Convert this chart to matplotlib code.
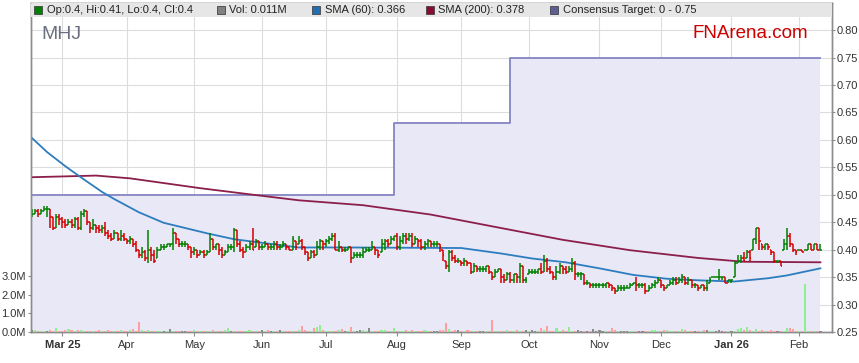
import numpy as np
import pandas as pd
import matplotlib
matplotlib.use('Agg')
import matplotlib.pyplot as plt
from matplotlib.collections import LineCollection
from matplotlib.patches import Rectangle

plt.rcParams['font.family'] = ['Liberation Sans', 'DejaVu Sans']

# daily bars from 17 Feb 2025, prices in A$
closes = [
    0.465, 0.470, 0.465, 0.470, 0.475, 0.475, 0.460, 0.440, 0.460, 0.455,
    0.450, 0.445, 0.450, 0.445, 0.455, 0.440, 0.465, 0.470, 0.450, 0.440, 0.445,
    0.440, 0.435, 0.440, 0.430, 0.425, 0.420, 0.430, 0.420, 0.425, 0.420,
    0.415, 0.420, 0.410, 0.400, 0.390, 0.395, 0.385, 0.400, 0.390, 0.380, 0.400, 0.405, 0.405, 0.410, 0.410,
    0.430, 0.420, 0.410, 0.410, 0.410,
    0.405, 0.395, 0.400, 0.390, 0.395, 0.390, 0.395,
    0.420, 0.405, 0.410, 0.400, 0.390, 0.395, 0.405, 0.405,
    0.435, 0.410, 0.400, 0.395, 0.405, 0.410, 0.400,
    0.415, 0.405, 0.405, 0.410, 0.405, 0.405, 0.410, 0.405,
    0.405, 0.410, 0.405, 0.400, 0.420, 0.405,
    0.415, 0.405, 0.395, 0.385, 0.395, 0.390, 0.405, 0.415, 0.410, 0.415, 0.420,
    0.425, 0.400, 0.405, 0.400, 0.400, 0.405, 0.385,
    0.390, 0.390, 0.390, 0.395, 0.400, 0.400, 0.405, 0.400, 0.390,
    0.410, 0.415, 0.410, 0.420, 0.425, 0.405, 0.415, 0.425, 0.420,
    0.425, 0.410, 0.420, 0.415, 0.405, 0.410, 0.415, 0.410,
    0.410, 0.410, 0.405, 0.390, 0.370, 0.395, 0.385,
    0.380, 0.380, 0.375, 0.380, 0.375, 0.360, 0.370, 0.365, 0.365,
    0.365, 0.370, 0.360, 0.350, 0.360, 0.365, 0.350, 0.345,
    0.355, 0.345, 0.355, 0.350, 0.370, 0.345, 0.345,
    0.360, 0.360, 0.360, 0.365, 0.360, 0.380,
    0.365, 0.360, 0.350, 0.360, 0.370,
    0.365, 0.360, 0.365, 0.375, 0.355, 0.355, 0.355, 0.340,
    0.340, 0.335, 0.335, 0.335, 0.335, 0.335, 0.340, 0.335, 0.330, 0.325,
    0.330, 0.330, 0.330, 0.330, 0.335, 0.340, 0.335,
    0.335, 0.335, 0.325, 0.330, 0.335, 0.340, 0.345, 0.335,
    0.330, 0.335, 0.340, 0.345, 0.340, 0.345, 0.350,
    0.340, 0.345, 0.335, 0.335,
    0.330, 0.335, 0.330, 0.330, 0.345, 0.350, 0.350, 0.350,
    0.350, 0.340, 0.345, 0.345, 0.375, 0.380, 0.385,
    0.380, 0.395, 0.385, 0.420, 0.440, 0.415, 0.405,
    0.410, 0.405, 0.395, 0.380, 0.380, 0.370,
    0.410, 0.425, 0.410, 0.400, 0.395, 0.400, 0.395,
    0.400, 0.410, 0.400, 0.410, 0.400, 0.400,
]
highs = [
    0.475, 0.475, 0.475, 0.475, 0.480, 0.480, 0.475, 0.460, 0.465, 0.465,
    0.460, 0.455, 0.455, 0.455, 0.460, 0.460, 0.470, 0.475, 0.470, 0.450, 0.455,
    0.445, 0.445, 0.445, 0.450, 0.435, 0.430, 0.435, 0.430, 0.435, 0.430,
    0.420, 0.425, 0.420, 0.415, 0.400, 0.405, 0.400, 0.435, 0.405, 0.400, 0.405, 0.410, 0.410, 0.410, 0.410,
    0.440, 0.430, 0.420, 0.415, 0.415,
    0.410, 0.405, 0.405, 0.400, 0.400, 0.400, 0.400,
    0.430, 0.420, 0.410, 0.410, 0.405, 0.400, 0.410, 0.410,
    0.440, 0.435, 0.415, 0.405, 0.410, 0.415, 0.440,
    0.420, 0.415, 0.410, 0.415, 0.410, 0.410, 0.415, 0.415,
    0.410, 0.415, 0.410, 0.405, 0.425, 0.415,
    0.425, 0.420, 0.405, 0.395, 0.400, 0.400, 0.415, 0.420, 0.415, 0.420, 0.425,
    0.430, 0.430, 0.415, 0.405, 0.405, 0.405, 0.405,
    0.395, 0.395, 0.395, 0.405, 0.405, 0.405, 0.415, 0.405, 0.400,
    0.420, 0.420, 0.420, 0.425, 0.425, 0.430, 0.425, 0.430, 0.430,
    0.430, 0.430, 0.425, 0.420, 0.420, 0.415, 0.420, 0.415,
    0.415, 0.415, 0.410, 0.400, 0.380, 0.400, 0.400,
    0.390, 0.385, 0.380, 0.385, 0.380, 0.375, 0.375, 0.370, 0.370,
    0.370, 0.370, 0.370, 0.360, 0.365, 0.365, 0.365, 0.355,
    0.360, 0.360, 0.355, 0.355, 0.375, 0.370, 0.350,
    0.365, 0.365, 0.365, 0.365, 0.375, 0.390,
    0.385, 0.370, 0.360, 0.370, 0.375,
    0.370, 0.370, 0.370, 0.385, 0.380, 0.360, 0.360, 0.355,
    0.345, 0.340, 0.340, 0.340, 0.340, 0.340, 0.340, 0.340, 0.335, 0.330,
    0.335, 0.335, 0.335, 0.335, 0.340, 0.340, 0.350,
    0.340, 0.340, 0.340, 0.335, 0.340, 0.345, 0.350, 0.345,
    0.335, 0.335, 0.345, 0.350, 0.350, 0.350, 0.355,
    0.350, 0.350, 0.345, 0.340,
    0.335, 0.335, 0.335, 0.345, 0.350, 0.350, 0.350, 0.365,
    0.350, 0.350, 0.345, 0.345, 0.380, 0.390, 0.390,
    0.395, 0.400, 0.400, 0.420, 0.440, 0.440, 0.410,
    0.410, 0.410, 0.400, 0.395, 0.380, 0.380,
    0.420, 0.440, 0.430, 0.410, 0.400, 0.400, 0.400,
    0.400, 0.410, 0.410, 0.410, 0.410, 0.410,
]
lows = [
    0.460, 0.465, 0.460, 0.465, 0.470, 0.460, 0.440, 0.435, 0.440, 0.445,
    0.440, 0.440, 0.445, 0.440, 0.440, 0.435, 0.435, 0.460, 0.445, 0.430, 0.435,
    0.430, 0.430, 0.430, 0.425, 0.420, 0.415, 0.420, 0.415, 0.415, 0.415,
    0.410, 0.410, 0.405, 0.395, 0.385, 0.385, 0.380, 0.375, 0.380, 0.375, 0.385, 0.400, 0.400, 0.405, 0.405,
    0.400, 0.410, 0.405, 0.405, 0.405,
    0.400, 0.385, 0.390, 0.385, 0.390, 0.385, 0.390,
    0.395, 0.400, 0.400, 0.390, 0.385, 0.390, 0.395, 0.400,
    0.395, 0.405, 0.395, 0.385, 0.395, 0.400, 0.400,
    0.405, 0.400, 0.400, 0.405, 0.400, 0.400, 0.400, 0.400,
    0.400, 0.405, 0.400, 0.400, 0.400, 0.400,
    0.410, 0.400, 0.390, 0.380, 0.385, 0.385, 0.390, 0.400, 0.400, 0.405, 0.410,
    0.415, 0.400, 0.395, 0.395, 0.395, 0.400, 0.375,
    0.385, 0.385, 0.385, 0.385, 0.395, 0.395, 0.400, 0.390, 0.385,
    0.395, 0.400, 0.405, 0.410, 0.415, 0.400, 0.400, 0.410, 0.410,
    0.415, 0.405, 0.410, 0.405, 0.400, 0.400, 0.405, 0.405,
    0.405, 0.405, 0.395, 0.380, 0.365, 0.360, 0.380,
    0.375, 0.375, 0.370, 0.370, 0.370, 0.355, 0.360, 0.360, 0.360,
    0.360, 0.360, 0.355, 0.345, 0.350, 0.360, 0.340, 0.340,
    0.345, 0.340, 0.340, 0.340, 0.340, 0.340, 0.340,
    0.355, 0.355, 0.355, 0.355, 0.355, 0.360,
    0.360, 0.355, 0.345, 0.345, 0.355,
    0.355, 0.355, 0.360, 0.360, 0.345, 0.350, 0.345, 0.335,
    0.335, 0.330, 0.330, 0.330, 0.330, 0.330, 0.330, 0.330, 0.325, 0.320,
    0.325, 0.325, 0.325, 0.330, 0.330, 0.335, 0.325,
    0.330, 0.330, 0.320, 0.325, 0.330, 0.330, 0.340, 0.330,
    0.325, 0.330, 0.335, 0.335, 0.335, 0.340, 0.340,
    0.335, 0.335, 0.330, 0.330,
    0.325, 0.330, 0.325, 0.325, 0.340, 0.350, 0.350, 0.345,
    0.345, 0.340, 0.340, 0.340, 0.350, 0.375, 0.375,
    0.380, 0.385, 0.380, 0.400, 0.410, 0.400, 0.400,
    0.400, 0.400, 0.390, 0.375, 0.375, 0.370,
    0.400, 0.400, 0.405, 0.395, 0.390, 0.400, 0.395,
    0.400, 0.400, 0.400, 0.400, 0.400, 0.400,
]
# volume in millions of shares
volumes = [
    .12, .10, .05, .08, .06, .04, .12, .08, .20, .06, .04, .10, .15, .10, .06, .12, .09, .04, .08, .05,
    .06, .04, .10, .03, .08, .12, .06, .08, .05, .09, .04, .06, .10, .14, .08, .55, .12, .08, .10, .06,
    .08, .06, .05, .04, .06, .14, .08, .04, .03, .06, .05, .08, .04, .12, .06, .03, .05, .04, .08, .10,
    .05, .04, .07, .12, .20, .06, .04, .05, .08, .03, .06, .10, .05, .04, .08, .12, .06, .10, .05, .04,
    .06, .10, .03, .05, .08, .06, .04, .12, .30, .10, .08, .06, .20, .25, .38, .10, .05, .04, .08, .06,
    .10, .15, .06, .04, .25, .08, .05, .10, .12, .06, .20, .05, .08, .04, .12, .10, .06, .05, .20, .08,
    .04, .06, .10, .05, .12, .08, .06, .04, .10, .05, .08, .06, .04, .10, .12, .48, .15, .08, .12, .10,
    .06, .08, .10, .05, .06, .04, .05, .08, .04, .06, .62, .05, .04, .08, .06, .10, .05, .04, .12, .06,
    .08, .10, .05, .12, .06, .08, .20, .10, .30, .06, .08, .22, .04, .10, .08, .25, .06, .08, .10, .05,
    .04, .06, .08, .14, .05, .12, .06, .04, .05, .20, .12, .06, .05, .04, .06, .04, .05, .08, .06, .04,
    .05, .04, .10, .12, .06, .08, .10, .12, .05, .06, .04, .08, .14, .12, .06, .04, .05, .08, .06, .10,
    .12, .05, .04, .08, .10, .06, .04, .08, .05, .06, .15, .20, .12, .25, .10, .08, .15, .06, .10, .06,
    .08, .10, .05, .06, .04, .08, .20, .22, .15, .06, .08, .04, 2.57, .06, .05, .04, .06, .05,
]

sma60_dates = ['2025-02-17', '2025-02-24', '2025-03-04', '2025-03-11', '2025-03-20', '2025-03-26',
               '2025-04-07', '2025-04-17', '2025-05-07', '2025-05-20', '2025-06-18', '2025-07-11',
               '2025-09-01', '2025-09-18', '2025-10-02', '2025-10-17', '2025-11-03', '2025-11-18',
               '2025-12-03', '2025-12-18', '2026-01-02', '2026-01-19', '2026-01-27', '2026-02-11']
sma60_values = [0.604, 0.578, 0.552, 0.532, 0.505, 0.492, 0.468, 0.449, 0.430, 0.419, 0.404, 0.404,
                0.403, 0.393, 0.384, 0.377, 0.366, 0.354, 0.347, 0.344, 0.342, 0.348, 0.353, 0.366]
sma200_dates = ['2025-02-17', '2025-03-18', '2025-04-02', '2025-05-05', '2025-05-29', '2025-06-18',
                '2025-07-17', '2025-08-18', '2025-09-16', '2025-10-16', '2025-11-17', '2025-12-17',
                '2026-01-07', '2026-02-11']
sma200_values = [0.532, 0.535, 0.530, 0.512, 0.4995, 0.490, 0.481, 0.464, 0.4415, 0.418, 0.399, 0.385,
                 0.378, 0.377]
target_dates = ['2025-02-17', '2025-07-31', '2025-09-23']
target_values = [0.50, 0.63, 0.75]

month_labels = ['Mar 25', 'Apr', 'May', 'Jun', 'Jul', 'Aug', 'Sep', 'Oct', 'Nov', 'Dec', 'Jan 26', 'Feb']
price_ticks = [0.25, 0.30, 0.35, 0.40, 0.45, 0.50, 0.55, 0.60, 0.65, 0.70, 0.75, 0.80]
vol_ticks = [0, 1, 2, 3]

legend_items = [
    ('#008000', 'Op:0.4, Hi:0.41, Lo:0.4, Cl:0.4'),
    ('#808080', 'Vol: 0.011M'),
    ('#1F6FB2', 'SMA (60): 0.366'),
    ('#8B0A32', 'SMA (200): 0.378'),
    ('#5E5E96', 'Consensus Target: 0 - 0.75'),
]

closes = np.array(closes)
highs = np.array(highs)
lows = np.array(lows)
volumes = np.array(volumes)
n = len(closes)
dates = pd.bdate_range('2025-02-17', periods=n)
x = np.arange(n)

prev = np.r_[closes[0], closes[:-1]]
opens = np.clip(prev, lows, highs)

fig = plt.figure(figsize=(8.59, 3.63), dpi=100)
ax = fig.add_axes([30.7 / 859, 31 / 363, 800.8 / 859, 329.3 / 363])
axv = ax.twinx()

# consensus target area
t_idx = dates.get_indexer(pd.to_datetime(target_dates))
tx = np.r_[t_idx, n - 1]
ty = np.r_[target_values, target_values[-1]]
ax.fill_between(tx, 0.25, ty, step='post', color='#E8E8F7', lw=0, zorder=1)
ax.step(tx, ty, where='post', color='#8585C4', lw=1.3, zorder=2)

# moving averages
s60 = dates.get_indexer(pd.to_datetime(sma60_dates))
s200 = dates.get_indexer(pd.to_datetime(sma200_dates))
ax.plot(s200, sma200_values, color='#8C1E4A', lw=1.3, zorder=3)
ax.plot(s60, sma60_values, color='#2D7DBE', lw=1.3, zorder=3)

# OHLC bars
segs, cols = [], []
for i in range(n):
    c = '#008000' if closes[i] >= opens[i] else '#D40000'
    segs += [[(x[i], lows[i]), (x[i], highs[i])],
             [(x[i] - 0.5, opens[i]), (x[i], opens[i])],
             [(x[i], closes[i]), (x[i] + 0.5, closes[i])]]
    cols += [c] * 3
ax.add_collection(LineCollection(segs, colors=cols, linewidths=1.1, zorder=4))

# volume
vcol = np.where(closes > prev, '#90EE90', np.where(closes < prev, '#FF9E9E', '#8A8A8A'))
axv.bar(x, volumes, width=0.7, color=vcol, zorder=3)

ax.set_xlim(-0.3, 260.6)
ax.set_ylim(0.25, 0.85)
axv.set_ylim(0, 17.7)

# axes styling
ax.yaxis.tick_right()
axv.yaxis.tick_left()
ax.set_yticks(price_ticks)
ax.set_yticklabels(['%.2f' % v for v in price_ticks])
axv.set_yticks(vol_ticks)
axv.set_yticklabels(['%.1fM' % v for v in vol_ticks])

month_idx = [i for i in range(1, n) if dates[i].month != dates[i - 1].month]
ax.set_xticks(month_idx)
ax.set_xticklabels(month_labels)
for lab in ax.get_xticklabels():
    if ' ' in lab.get_text():
        lab.set_fontweight('bold')

for a in (ax, axv):
    a.tick_params(labelsize=8, labelcolor='#333333', color='#8C8C8C', length=2.5, pad=1)
    for sp in a.spines.values():
        sp.set_color('#8C8C8C')
        sp.set_linewidth(1.0)
ax.tick_params(axis='x', length=3, pad=2.5)

ax.set_axisbelow(True)
ax.grid(True, color='#DCDCDC', lw=0.8)

# header band and legend
axv.add_patch(Rectangle((0, 0.9575), 1, 0.0425, transform=axv.transAxes,
                        fc='#E6E6E6', ec='none', zorder=5))
sq_x = [0.0097, 0.2371, 0.3568, 0.4982, 0.6537]
for (col, txt), sx in zip(legend_items, sq_x):
    axv.plot([sx], [0.978], marker='s', ms=5.5, mfc=col, mec='#444444', mew=0.6,
             transform=axv.transAxes, zorder=6, clip_on=False)
    axv.text(sx + 0.0105, 0.978, txt, transform=axv.transAxes, fontsize=8,
             color='#222222', va='center', ha='left', zorder=6)

axv.text(0.0137, 0.889, 'MHJ', transform=axv.transAxes, fontsize=14,
         color='#6B7080', va='baseline', zorder=6)
axv.text(0.827, 0.893, 'FNArena.com', transform=axv.transAxes, fontsize=13.5,
         color='#CC0000', va='baseline', zorder=6)

fig.savefig('out.png', dpi=100)
